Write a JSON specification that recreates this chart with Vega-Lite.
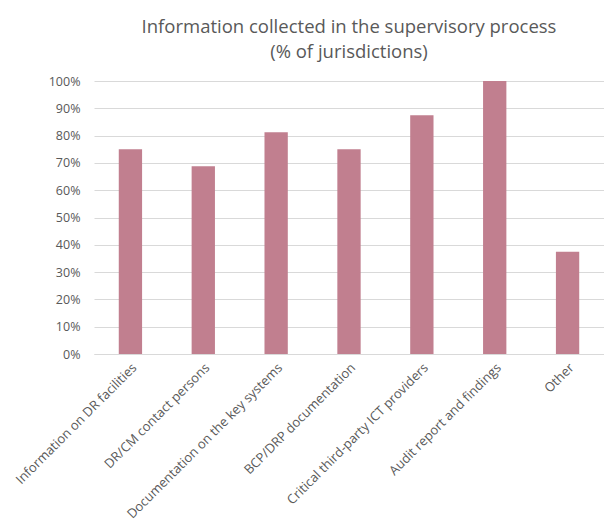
{
  "$schema": "https://vega.github.io/schema/vega-lite/v6.json",
  "autosize": {"type": "none"},
  "width": 510,
  "height": 273,
  "padding": {"left": 94, "top": 81, "right": 0, "bottom": 176},
  "background": "white",
  "title": {
    "text": ["Information collected in the supervisory process", "(% of jurisdictions)"],
    "font": "Open Sans",
    "fontSize": 18.5,
    "fontWeight": "normal",
    "color": "#595959",
    "lineHeight": 25,
    "anchor": "middle",
    "offset": 14
  },
  "data": {
    "values": [
      {"category": "Information on DR facilities", "value": 0.75},
      {"category": "DR/CM contact persons", "value": 0.6875},
      {"category": "Documentation on the key systems", "value": 0.8125},
      {"category": "BCP/DRP documentation", "value": 0.75},
      {"category": "Critical third-party ICT providers", "value": 0.875},
      {"category": "Audit report and findings", "value": 1.0},
      {"category": "Other", "value": 0.375}
    ]
  },
  "mark": {"type": "bar", "color": "#c17f8f"},
  "encoding": {
    "x": {
      "field": "category",
      "type": "nominal",
      "sort": null,
      "scale": {"paddingInner": 0.68, "paddingOuter": 0.34},
      "axis": {
        "title": null,
        "labelAngle": -45,
        "labelFont": "Open Sans",
        "labelFontSize": 13,
        "labelColor": "#595959",
        "labelPadding": 7,
        "ticks": false,
        "domain": true,
        "domainColor": "#d9d9d9",
        "labelLimit": 300
      }
    },
    "y": {
      "field": "value",
      "type": "quantitative",
      "scale": {"domain": [0, 1]},
      "axis": {
        "title": null,
        "format": ".0%",
        "values": [0, 0.1, 0.2, 0.3, 0.4, 0.5, 0.6, 0.7, 0.8, 0.9, 1.0],
        "labelFont": "Open Sans",
        "labelFontSize": 12.5,
        "labelColor": "#595959",
        "labelPadding": 14,
        "ticks": false,
        "domain": false,
        "grid": true,
        "gridColor": "#d9d9d9",
        "gridWidth": 1
      }
    }
  },
  "config": {"view": {"stroke": null}}
}
